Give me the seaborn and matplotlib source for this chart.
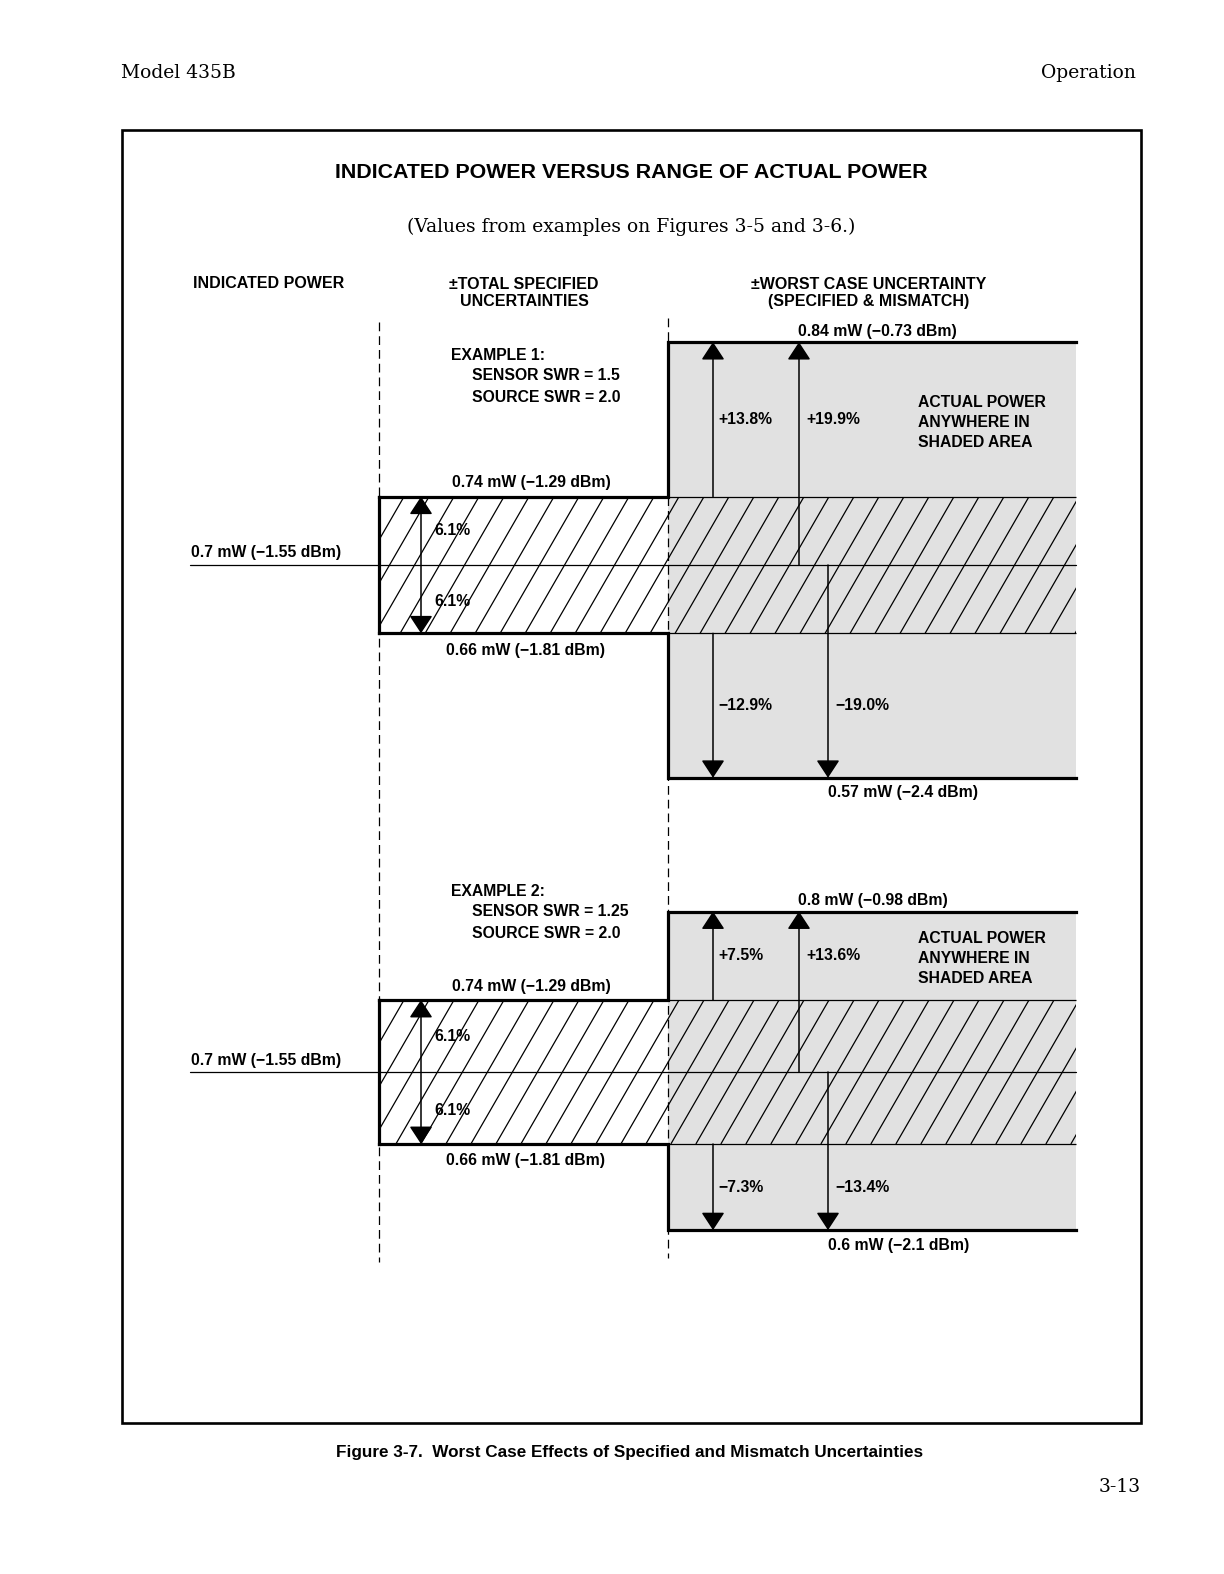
import numpy as np
import matplotlib
matplotlib.use("Agg")
import matplotlib.pyplot as plt
import seaborn as sns
from matplotlib.collections import LineCollection
from matplotlib.patches import Rectangle

sns.set_style("white")
plt.rcParams['font.family'] = ['Liberation Sans', 'DejaVu Sans']
plt.rcParams['text.color'] = 'black'

# values from the two examples
example_names = ["EXAMPLE 1:", "EXAMPLE 2:"]
sensor_swr = ["1.5", "1.25"]
source_swr = ["2.0", "2.0"]
indicated_mw = 0.7
indicated_dbm = -1.55
spec_pct = [6.1, 6.1]
spec_hi_mw = [0.74, 0.74]
spec_hi_dbm = [-1.29, -1.29]
spec_lo_mw = [0.66, 0.66]
spec_lo_dbm = [-1.81, -1.81]
mismatch_up_pct = [13.8, 7.5]
mismatch_dn_pct = [12.9, 7.3]
worst_up_pct = [19.9, 13.6]
worst_dn_pct = [19.0, 13.4]
worst_hi_mw = [0.84, 0.8]
worst_hi_dbm = [-0.73, -0.98]
worst_lo_mw = [0.57, 0.6]
worst_lo_dbm = [-2.4, -2.1]


def num(v):
    return f"{v:g}".replace("-", "\u2212")


def pct(v, sign=""):
    s = f"{abs(v):.1f}%"
    if sign == "+":
        return "+" + s
    if sign == "-":
        return "\u2212" + s
    return s


W, H = 1224, 1574
fig = plt.figure(figsize=(W / 100, H / 100), dpi=100)


def px_axes(x0, y0, x1, y1):
    return fig.add_axes([x0 / W, 1 - y1 / H, (x1 - x0) / W, (y1 - y0) / H])


# layout (page pixels)
AX_X0, AX_X1 = 180, 1085
X_LINE = 190
X_SPEC = 379
X_STEP = 668
X_END = 1076
X_SPEC_ARROW = 421
X_MIS = 713
X_WORST_UP = 799
X_WORST_DN = 828
HATCH_STEP = 25
ex_center = [565, 1072]
ex_scale = [11.2, 11.8]   # pixels per percent
ex_half = [235, 205]
GRAY = "#e1e1e1"
LAB = dict(fontsize=11.3, fontweight="bold")

for i in range(2):
    c, sc, hf = ex_center[i], ex_scale[i], ex_half[i]
    ax = px_axes(AX_X0, c - hf, AX_X1, c + hf)
    ax.set_xlim(AX_X0, AX_X1)
    ax.set_ylim(-hf / sc, hf / sc)
    ax.axis("off")

    sp, up, dn = spec_pct[i], worst_up_pct[i], worst_dn_pct[i]

    # shaded range of actual power
    ax.fill_between([X_STEP, X_END], -dn, up, color=GRAY, lw=0, zorder=1)

    # hatched band of specified uncertainty
    clip = Rectangle((X_SPEC, -sp), X_END - X_SPEC, 2 * sp, fc="none", ec="none")
    ax.add_patch(clip)
    run = 2 * sp * sc / np.tan(np.radians(60))
    starts = np.arange(X_SPEC - run, X_END + HATCH_STEP, HATCH_STEP)
    hatch = LineCollection([[(s, -sp), (s + run, sp)] for s in starts],
                           colors="black", linewidths=0.9, zorder=2)
    ax.add_collection(hatch)
    hatch.set_clip_path(clip)
    ax.hlines([sp, -sp], X_STEP, X_END, color="black", lw=0.9, zorder=3)

    # indicated power line
    sns.lineplot(x=[X_LINE, X_END], y=[0, 0], ax=ax, color="black", lw=0.9, zorder=3)

    # thick stepped outline
    kw = dict(color="black", lw=2.3, solid_joinstyle="miter", solid_capstyle="projecting", zorder=4)
    ax.plot([X_SPEC, X_SPEC], [-sp, sp], **kw)
    ax.plot([X_SPEC, X_STEP, X_STEP, X_END], [sp, sp, up, up], **kw)
    ax.plot([X_SPEC, X_STEP, X_STEP, X_END], [-sp, -sp, -dn, -dn], **kw)

    # arrows
    head = "-|>,head_length=0.55,head_width=0.36"
    aprops = dict(arrowstyle=head, mutation_scale=20, lw=1.1, color="black",
                  shrinkA=0, shrinkB=0)
    ax.annotate("", xy=(X_SPEC_ARROW, sp), xytext=(X_SPEC_ARROW, -sp), zorder=5,
                arrowprops=dict(aprops, arrowstyle="<|-|>,head_length=0.55,head_width=0.36"))
    ax.annotate("", xy=(X_MIS, up), xytext=(X_MIS, sp), arrowprops=aprops, zorder=5)
    ax.annotate("", xy=(X_WORST_UP, up), xytext=(X_WORST_UP, 0), arrowprops=aprops, zorder=5)
    ax.annotate("", xy=(X_MIS, -dn), xytext=(X_MIS, -sp), arrowprops=aprops, zorder=5)
    ax.annotate("", xy=(X_WORST_DN, -dn), xytext=(X_WORST_DN, 0), arrowprops=aprops, zorder=5)

    # percentage labels
    ax.text(X_SPEC_ARROW + 13, sp / 2, pct(sp), ha="left", va="center", zorder=6, **LAB)
    ax.text(X_SPEC_ARROW + 13, -sp / 2 - 0.2, pct(sp), ha="left", va="center", zorder=6, **LAB)
    mid_up = (sp + up) / 2
    mid_dn = -(sp + dn) / 2
    ax.text(X_MIS + 5, mid_up, pct(mismatch_up_pct[i], "+"), ha="left", va="center", **LAB)
    ax.text(X_WORST_UP + 7, mid_up, pct(up, "+"), ha="left", va="center", **LAB)
    ax.text(X_MIS + 5, mid_dn, pct(mismatch_dn_pct[i], "-"), ha="left", va="center", **LAB)
    ax.text(X_WORST_DN + 7, mid_dn, pct(dn, "-"), ha="left", va="center", **LAB)
    ax.annotate("ACTUAL POWER\nANYWHERE IN\nSHADED AREA", xy=(918, mid_up), xytext=(0, -3),
                textcoords="offset pixels", ha="left", va="center", linespacing=1.4, **LAB)

    # power level labels
    def lev(x, y, s, dy, ha):
        ax.annotate(s, xy=(x, y), xytext=(0, dy), textcoords="offset pixels",
                    ha=ha, va="center", **LAB)

    lev(X_LINE + 1, 0, f"{num(indicated_mw)} mW ({num(indicated_dbm)} dBm)", 12, "left")
    lev(531, sp, f"{num(spec_hi_mw[i])} mW ({num(spec_hi_dbm[i])} dBm)", 14, "center")
    lev(526, -sp, f"{num(spec_lo_mw[i])} mW ({num(spec_lo_dbm[i])} dBm)", -17, "center")
    lev(X_WORST_UP - 1, up, f"{num(worst_hi_mw[i])} mW ({num(worst_hi_dbm[i])} dBm)", 11, "left")
    lev(X_WORST_DN, -dn, f"{num(worst_lo_mw[i])} mW ({num(worst_lo_dbm[i])} dBm)", -15, "left")

# page layer: frame, headings, column separators
page = fig.add_axes([0, 0, 1, 1], zorder=10)
page.set_xlim(0, W)
page.set_ylim(H, 0)
page.axis("off")
page.patch.set_visible(False)

page.add_patch(Rectangle((122, 130), 1141 - 122, 1423 - 130, fill=False, ec="black", lw=1.9))
page.vlines(X_SPEC, 322, 1262, color="black", lw=0.9, linestyles=(0, (7, 4)))
page.vlines(X_STEP, 318, 1258, color="black", lw=0.9, linestyles=(0, (7, 4)))

serif = ["DejaVu Serif"]
page.text(121, 73, "Model 435B", family=serif, fontsize=13.5, ha="left", va="center")
page.text(1136, 73, "Operation", family=serif, fontsize=13.5, ha="right", va="center")
page.text(631, 172, "INDICATED POWER VERSUS RANGE OF ACTUAL POWER", fontsize=15.4,
          fontweight="bold", ha="center", va="center")
page.text(631, 227, "(Values from examples on Figures 3-5 and 3-6.)", family=serif,
          fontsize=13.5, ha="center", va="center")
page.text(269, 284, "INDICATED POWER", fontsize=11.5, fontweight="bold", ha="center", va="center")
page.text(524, 293, "\u00b1TOTAL SPECIFIED\nUNCERTAINTIES", fontsize=11.5, fontweight="bold",
          ha="center", va="center", linespacing=1.2)
page.text(869, 293, "\u00b1WORST CASE UNCERTAINTY\n(SPECIFIED & MISMATCH)", fontsize=11.5,
          fontweight="bold", ha="center", va="center", linespacing=1.2)

ex_text_y = [356, 892]
for i in range(2):
    page.text(451, ex_text_y[i], example_names[i], ha="left", va="center", **LAB)
    page.text(472, ex_text_y[i] + 20, f"SENSOR SWR = {sensor_swr[i]}", ha="left", va="center", **LAB)
    page.text(472, ex_text_y[i] + 41, f"SOURCE SWR = {source_swr[i]}", ha="left", va="center", **LAB)

page.text(630, 1453, "Figure 3-7.  Worst Case Effects of Specified and Mismatch Uncertainties",
          family=["Liberation Sans"], fontsize=12.3, fontweight="bold",
          ha="center", va="center")
page.text(1141, 1487, "3-13", family=serif, fontsize=13.5, ha="right", va="center")

fig.savefig("out.png", dpi=100, facecolor="white")
